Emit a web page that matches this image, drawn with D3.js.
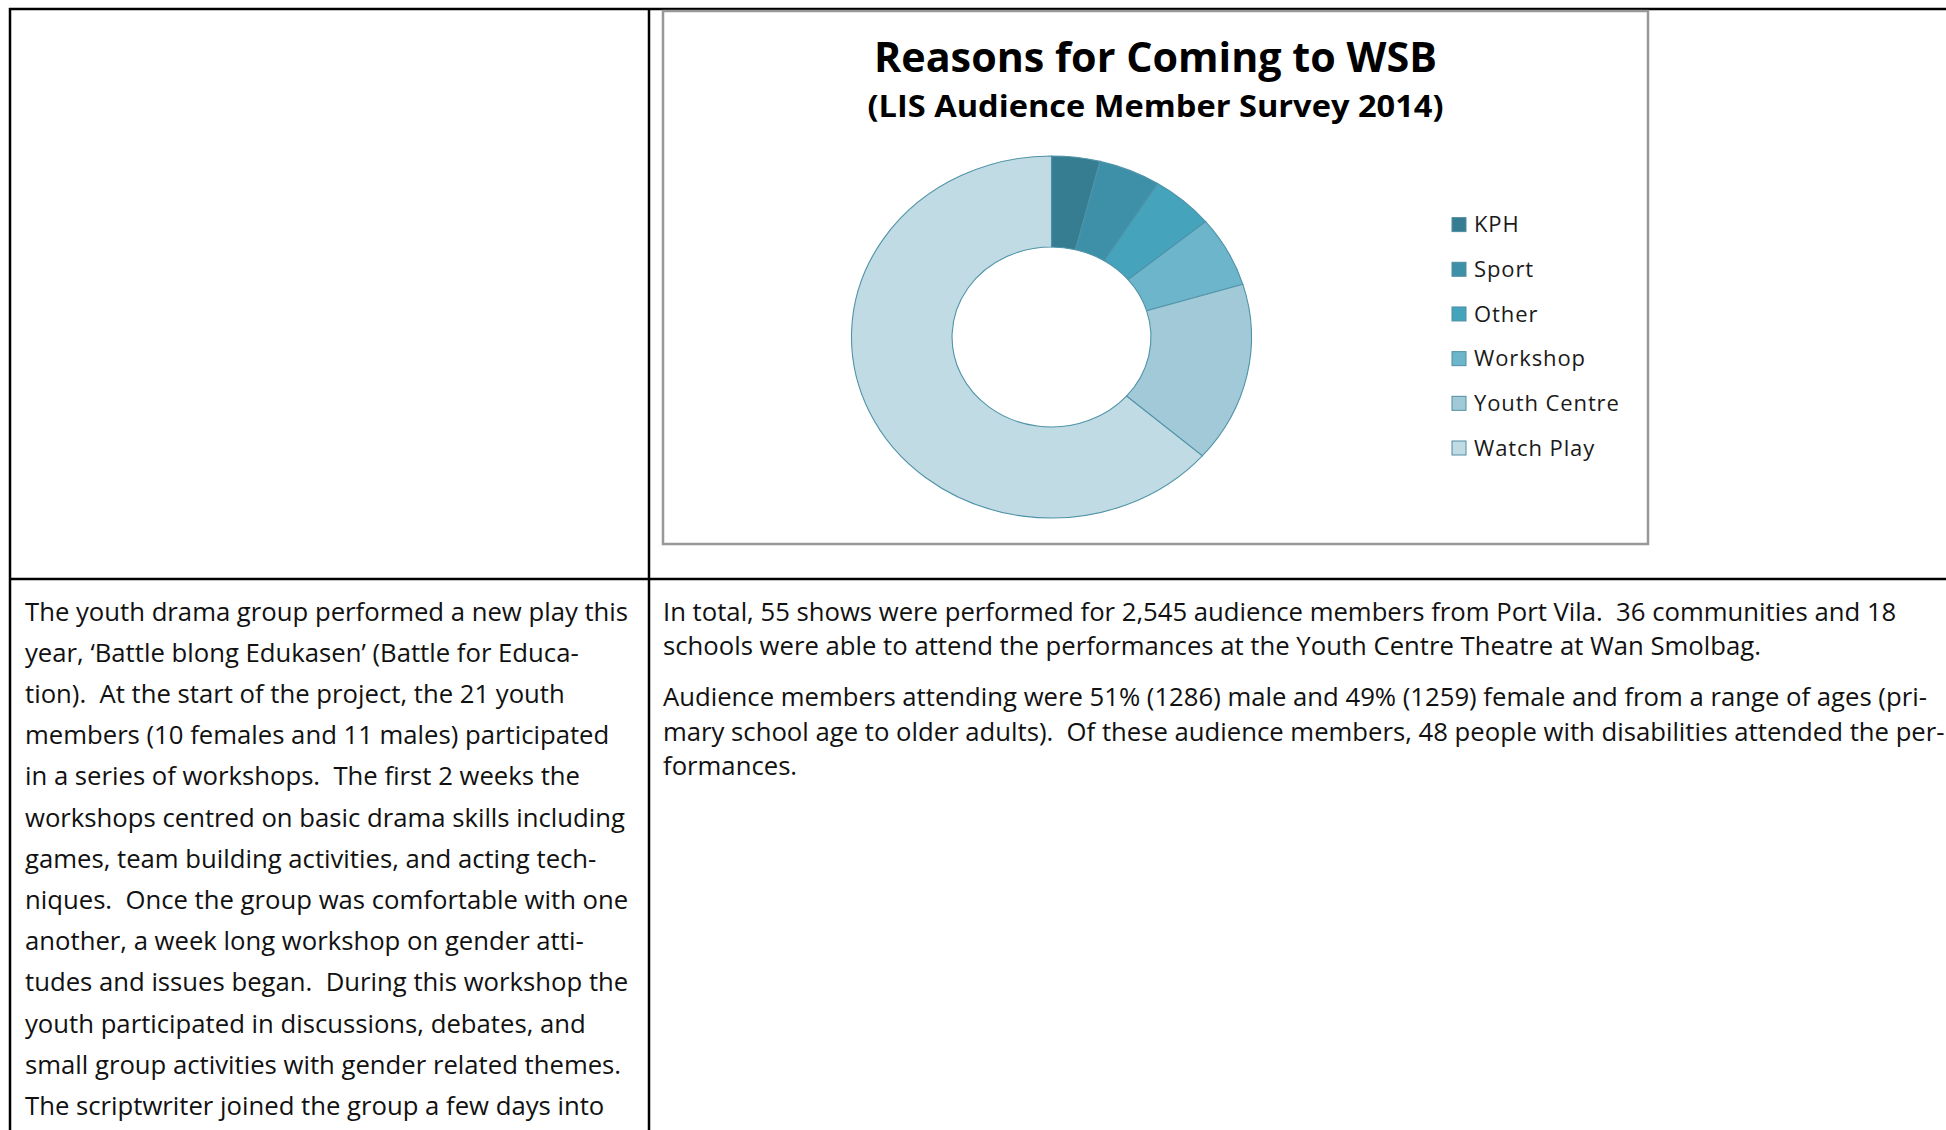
<!DOCTYPE html>
<html>
<head>
<meta charset="utf-8">
<script src="https://cdn.jsdelivr.net/npm/d3@7"></script>
<style>
  body { margin: 0; background: #fff; }
  svg text { white-space: pre; }
</style>
</head>
<body>
<div id="page"></div>
<script>
// chart data
const categories = ['KPH', 'Sport', 'Other', 'Workshop', 'Youth Centre', 'Watch Play'];
const shares = [3.9, 5.0, 5.1, 6.3, 16.1, 63.6];
const sliceColors = ['#377d92', '#3e8fa8', '#45a3bc', '#6db5cb', '#a1c9d8', '#c1dbe4'];

const chartTitle = 'Reasons for Coming to WSB';
const chartSubtitle = '(LIS Audience Member Survey 2014)';

// text blocks of the page, one entry per printed line
const leftLines = [
  'The youth drama group performed a new play this',
  'year, \u2018Battle blong Edukasen\u2019 (Battle for Educa-',
  'tion).  At the start of the project, the 21 youth',
  'members (10 females and 11 males) participated',
  'in a series of workshops.  The first 2 weeks the',
  'workshops centred on basic drama skills including',
  'games, team building activities, and acting tech-',
  'niques.  Once the group was comfortable with one',
  'another, a week long workshop on gender atti-',
  'tudes and issues began.  During this workshop the',
  'youth participated in discussions, debates, and',
  'small group activities with gender related themes.',
  'The scriptwriter joined the group a few days into'
];
const rightParagraphs = [
  ['In total, 55 shows were performed for 2,545 audience members from Port Vila.  36 communities and 18',
   'schools were able to attend the performances at the Youth Centre Theatre at Wan Smolbag.'],
  ['Audience members attending were 51% (1286) male and 49% (1259) female and from a range of ages (pri-',
   'mary school age to older adults).  Of these audience members, 48 people with disabilities attended the per-',
   'formances.']
];

const width = 1946;
const height = 1130;
const bodyFont = '"Open Sans", "Noto Sans", sans-serif';

const svg = d3.select('#page')
    .append('svg')
    .attr('width', width)
    .attr('height', height);

// table grid
const grid = svg.append('g')
    .attr('stroke', '#000')
    .attr('stroke-width', 2.5);
grid.append('line').attr('x1', 9).attr('x2', width).attr('y1', 9).attr('y2', 9);
grid.append('line').attr('x1', 10).attr('x2', 10).attr('y1', 8).attr('y2', height);
grid.append('line').attr('x1', 649).attr('x2', 649).attr('y1', 8).attr('y2', height);
grid.append('line').attr('x1', 9).attr('x2', width).attr('y1', 579).attr('y2', 579);

// chart frame
const frame = {x: 663, y: 11, w: 985, h: 533};
svg.append('rect')
    .attr('x', frame.x)
    .attr('y', frame.y)
    .attr('width', frame.w)
    .attr('height', frame.h)
    .attr('fill', '#fff')
    .attr('stroke', '#989898')
    .attr('stroke-width', 2.5);

const cx = frame.x + frame.w / 2;

svg.append('text')
    .attr('x', cx)
    .attr('y', 72)
    .attr('text-anchor', 'middle')
    .attr('font-family', bodyFont)
    .attr('font-weight', 'bold')
    .attr('font-size', 41)
    .attr('textLength', 563)
    .attr('lengthAdjust', 'spacingAndGlyphs')
    .attr('fill', '#000')
    .text(chartTitle);

svg.append('text')
    .attr('x', cx)
    .attr('y', 117)
    .attr('text-anchor', 'middle')
    .attr('font-family', bodyFont)
    .attr('font-weight', 'bold')
    .attr('font-size', 29.5)
    .attr('textLength', 576)
    .attr('lengthAdjust', 'spacingAndGlyphs')
    .attr('fill', '#000')
    .text(chartSubtitle);

// donut, drawn round then stretched a little in x like the original picture
const outerR = 181;
const innerR = 90;
const pie = d3.pie().sort(null).value(d => d);
const arc = d3.arc().innerRadius(innerR).outerRadius(outerR);

const donut = svg.append('g')
    .attr('transform', 'translate(1051.5,337) scale(1.105,1)');

donut.selectAll('path')
    .data(pie(shares))
    .join('path')
    .attr('d', arc)
    .attr('fill', (d, i) => sliceColors[i])
    .attr('stroke', '#4f93a8')
    .attr('stroke-width', 1.1)
    .attr('vector-effect', 'non-scaling-stroke');

// legend
const legendY = d3.scalePoint()
    .domain(categories)
    .range([224.6, 448]);

const legend = svg.append('g');
categories.forEach((c, i) => {
  legend.append('rect')
      .attr('x', 1452)
      .attr('y', legendY(c) - 7)
      .attr('width', 14)
      .attr('height', 14)
      .attr('fill', sliceColors[i])
      .attr('stroke', '#4f8ea2')
      .attr('stroke-width', 1);
  legend.append('text')
      .attr('x', 1474)
      .attr('y', legendY(c))
      .attr('dy', '0.35em')
      .attr('font-family', bodyFont)
      .attr('font-size', 22)
      .attr('letter-spacing', 0.9)
      .attr('fill', '#1a1a1a')
      .text(c);
});

// left column text
const leftText = svg.append('g')
    .attr('font-family', bodyFont)
    .attr('font-size', 25.7)
    .attr('fill', '#111');
leftLines.forEach((line, i) => {
  leftText.append('text')
      .attr('x', 25)
      .attr('y', 620.5 + i * 41.2)
      .text(line);
});

// right column text
const rightText = svg.append('g')
    .attr('font-family', bodyFont)
    .attr('font-size', 25.7)
    .attr('fill', '#111');
let y = 620.5;
rightParagraphs.forEach(par => {
  par.forEach(line => {
    rightText.append('text')
        .attr('x', 663)
        .attr('y', y)
        .text(line);
    y += 34.7;
  });
  y += 16;
});
</script>
</body>
</html>
